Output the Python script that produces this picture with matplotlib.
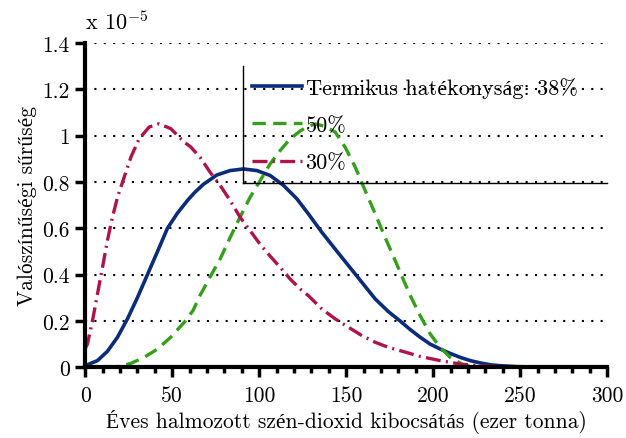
import numpy as np
import matplotlib
matplotlib.use("Agg")
import matplotlib.pyplot as plt
from matplotlib.ticker import MultipleLocator, FormatStrFormatter

plt.rcParams['font.family'] = ['cmr10', 'Liberation Serif']
plt.rcParams['mathtext.fontset'] = 'cm'
plt.rcParams['axes.unicode_minus'] = False

# density curves, units of 1e-5
x_38 = [0, 1.3, 7.1, 12.8, 18.6, 24.3, 30, 35.8, 41.6, 47.3, 53, 58.8, 63, 68, 75.7, 83.3, 91,
        98.7, 106.3, 114, 121.7, 128.3, 136, 143.7, 151.3, 159, 166.7, 174.3, 181, 186.8, 192.5,
        198.3, 204, 209.8, 215.5, 221.3, 227, 232.8, 238.5, 248, 260, 300]
y_38 = [0.01, 0.011, 0.029, 0.069, 0.13, 0.209, 0.30, 0.40, 0.50, 0.60, 0.665, 0.72, 0.755, 0.79, 0.83, 0.849, 0.856,
        0.849, 0.828, 0.785, 0.727, 0.662, 0.583, 0.51, 0.439, 0.367, 0.295, 0.24, 0.2, 0.163, 0.13,
        0.10, 0.079, 0.06, 0.043, 0.029, 0.019, 0.011, 0.007, 0.003, 0.001, 0.0]

x_50 = [0, 12, 18.6, 26.3, 33.9, 41.6, 49.2, 56.9, 62, 66, 71.8, 77.6, 83.3, 89, 94.8, 100.6,
        106.3, 112, 117.8, 123.6, 128, 132.2, 138, 143.7, 149.4, 155.2, 160.9, 166.7, 172.4, 178.2,
        183.9, 186.8, 192.5, 198.3, 204, 209.8, 217.4, 224, 300]
y_50 = [0.0, 0.0, 0.003, 0.017, 0.043, 0.079, 0.13, 0.194, 0.245, 0.31, 0.39, 0.468, 0.56, 0.648, 0.734, 0.806,
        0.878, 0.935, 0.986, 1.02, 1.04, 1.05, 1.04, 1.015, 0.95, 0.864, 0.763, 0.662, 0.56, 0.46,
        0.36, 0.31, 0.223, 0.144, 0.086, 0.043, 0.01, 0.0, 0.0]

x_30 = [0, 1.3, 4.2, 7.1, 10, 12.8, 15.7, 18.6, 22.4, 26.3, 31, 36.8, 42.5, 49.2, 56.9, 60.5, 66,
        71.8, 77.6, 83.3, 89, 94.8, 100.6, 106.3, 112, 117.8, 123.6, 128.3, 136, 143.7, 151.3, 159,
        166.7, 174.3, 181, 192.5, 204, 215.5, 227, 238.5, 250, 300]
y_30 = [0.08, 0.10, 0.2, 0.317, 0.432, 0.547, 0.648, 0.734, 0.82, 0.907, 0.986, 1.037, 1.051, 1.03, 0.972, 0.952, 0.907,
        0.842, 0.785, 0.72, 0.648, 0.59, 0.53, 0.48, 0.432, 0.381, 0.338, 0.309, 0.252, 0.209, 0.173, 0.137,
        0.108, 0.086, 0.072, 0.047, 0.029, 0.014, 0.007, 0.003, 0.001, 0.0]

labels = ["Termikus hatékonyság: 38%", "50%", "30%"]
c_blue = "#0b2c78"
c_green = "#34a01a"
c_red = "#b0124c"

fig = plt.figure(figsize=(6.26, 4.39), dpi=100)
ax = fig.add_axes([0.136, 0.161, 0.834, 0.739])

ax.plot(x_38, y_38, color=c_blue, lw=2.6, label=labels[0])
ax.plot(x_50, y_50, color=c_green, lw=2.4, ls=(0, (4, 2.2)), label=labels[1])
ax.plot(x_30, y_30, color=c_red, lw=2.4, ls=(0, (4.5, 1.6, 0.6, 1.6)), label=labels[2])

for g in np.arange(0.2, 1.41, 0.2):
    ax.axhline(g, color='black', lw=1.5, ls=(0, (1, 3.5)), zorder=0)

ax.set_xlim(0, 300)
ax.set_ylim(0, 1.4)
ax.xaxis.set_major_locator(MultipleLocator(50))
ax.xaxis.set_minor_locator(MultipleLocator(10))
ax.yaxis.set_major_locator(MultipleLocator(0.2))
ax.yaxis.set_major_formatter(FormatStrFormatter('%g'))

for s in ['top', 'right']:
    ax.spines[s].set_visible(False)
for s in ['left', 'bottom']:
    ax.spines[s].set_linewidth(3)
ax.tick_params(which='major', direction='out', length=7, width=2.5, labelsize=15.5, pad=4)
ax.tick_params(axis='x', which='major', pad=6)
ax.tick_params(which='minor', direction='out', length=4, width=2.5)

ax.set_xlabel("Éves halmozott szén-dioxid kibocsátás (ezer tonna)", fontsize=15.5, labelpad=3)
ax.set_ylabel("Valószínűségi sűrűség", fontsize=15.5)
ax.text(0.0, 1.03, r"x 10$^{-5}$", transform=ax.transAxes, fontsize=16, ha='left', va='bottom')

# legend with only left and bottom border lines
leg = ax.legend(loc='upper left', bbox_to_anchor=(0.32, 0.895), frameon=False,
                fontsize=16, handlelength=2.25, handletextpad=0.15, labelspacing=0.8,
                borderaxespad=0, borderpad=0)
ax.plot([0.303, 0.303], [0.568, 0.929], transform=ax.transAxes, color='black', lw=1, clip_on=False)
ax.plot([0.303, 1.0], [0.568, 0.568], transform=ax.transAxes, color='black', lw=1, clip_on=False)

fig.savefig("out.png", dpi=100)
